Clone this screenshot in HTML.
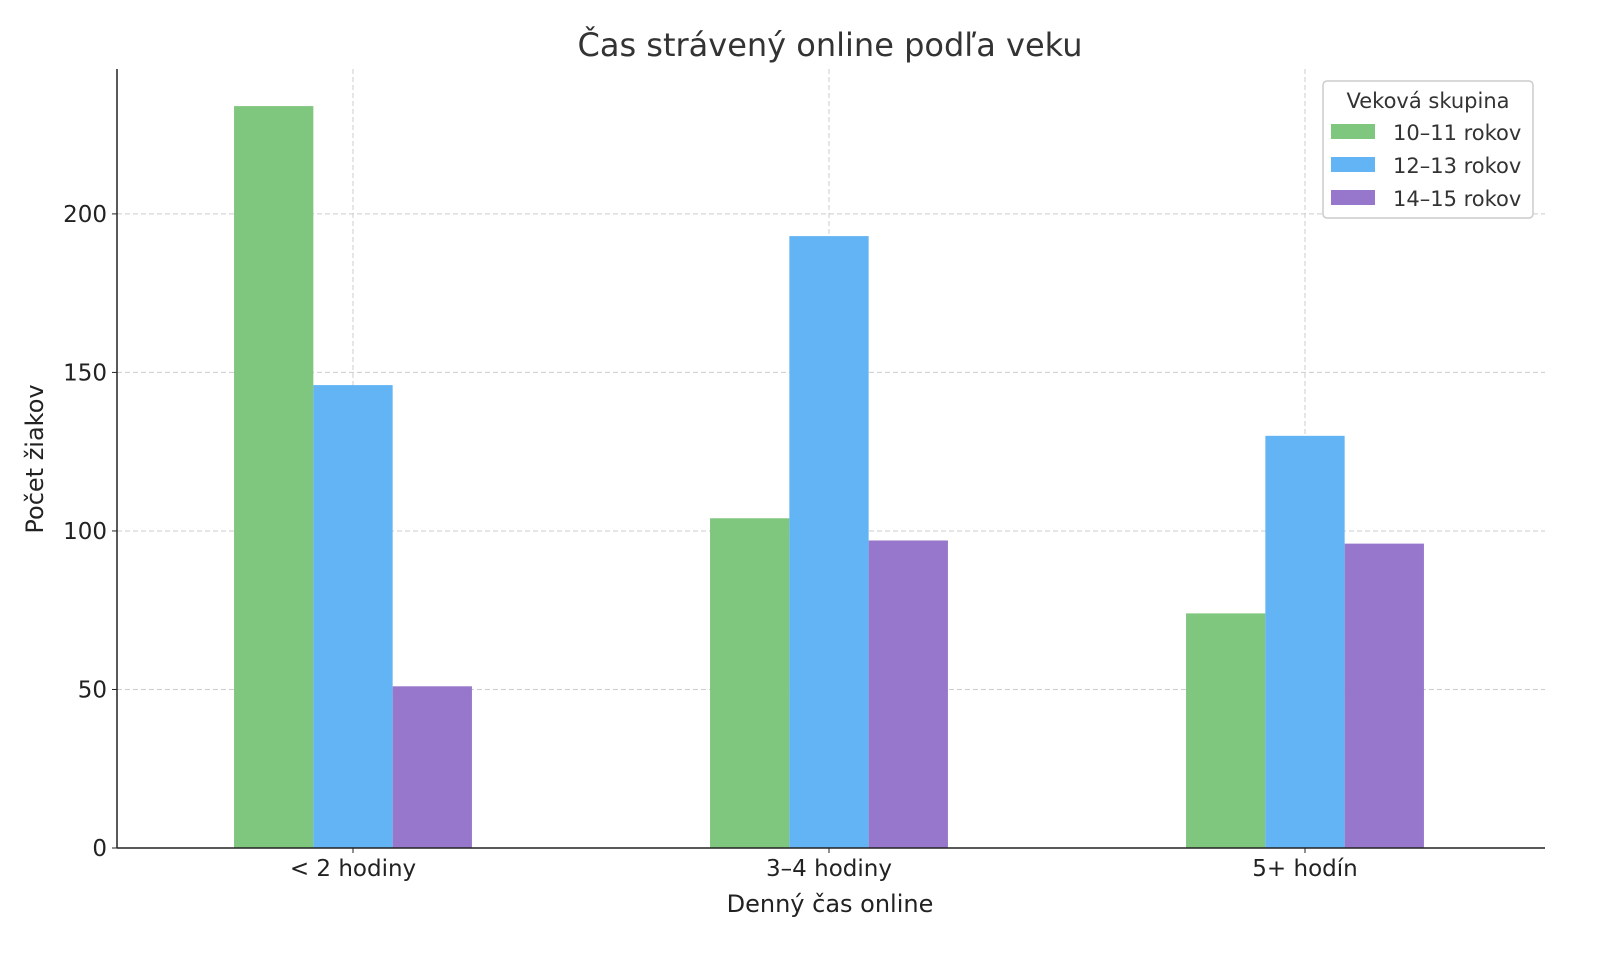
<!DOCTYPE html>
<html><head><meta charset="utf-8"><style>
body{margin:0;background:#fff;}
svg{display:block;font-family:"DejaVu Sans","Liberation Sans",sans-serif;}
</style></head><body>
<svg id="chart" width="1600" height="960">
<text x="830" y="56" text-anchor="middle" font-size="32" fill="#333">Čas strávený online podľa veku</text>
<g id="grid"></g>
<g id="bars"></g>
<g id="axes"></g>
<text x="830" y="912" text-anchor="middle" font-size="24" fill="#222">Denný čas online</text>
<text transform="translate(43,459) rotate(-90)" text-anchor="middle" font-size="24" fill="#222">Počet žiakov</text>
<g>
<rect x="1323" y="81" width="210" height="137" rx="4" fill="#fff" stroke="#ccc" stroke-width="1.5"/>
<text x="1428" y="108" text-anchor="middle" font-size="21" fill="#333">Veková skupina</text>
<g><rect x="1331" y="124" width="44" height="15" fill="#7fc67f"/><text x="1393" y="140" font-size="21" fill="#333">10–11 rokov</text></g>
<g><rect x="1331" y="157" width="44" height="15" fill="#63b4f4"/><text x="1393" y="173" font-size="21" fill="#333">12–13 rokov</text></g>
<g><rect x="1331" y="190" width="44" height="15" fill="#9677cc"/><text x="1393" y="206" font-size="21" fill="#333">14–15 rokov</text></g>
</g>
</svg>
<script>
const categories=["< 2 hodiny","3–4 hodiny","5+ hodín"];
const s1011=[234,104,74];
const s1213=[146,193,130];
const s1415=[51,97,96];
const yTicks=[0,50,100,150,200];
const colors=["#7fc67f","#63b4f4","#9677cc"];
const ns="http://www.w3.org/2000/svg";
const X0=117,X1=1545,Y0=848,Ytop=69,ymax=245.7;
function y(v){return Y0-(v/ymax)*(Y0-Ytop);}
function xc(i){return 353+i*476;}
const bw=79.3;
function mk(t,a,p){const e=document.createElementNS(ns,t);for(const k in a)e.setAttribute(k,a[k]);p.appendChild(e);return e;}
const grid=document.getElementById('grid'),bars=document.getElementById('bars'),axes=document.getElementById('axes');
yTicks.forEach(v=>{
 if(v>0){const l=mk('line',{x1:X0,x2:X1,y1:y(v),y2:y(v),stroke:'#ccc','stroke-dasharray':'5,3'},grid);
 
 }
 const t=mk('text',{x:X0-10,y:y(v)+8,'text-anchor':'end','font-size':'23',fill:'#222'},axes);t.textContent=v;
 
 
 mk('line',{x1:X0-5,x2:X0,y1:y(v),y2:y(v),stroke:'#222'},axes);
});
categories.forEach((c,i)=>{
 const l=mk('line',{x1:xc(i),x2:xc(i),y1:Ytop,y2:Y0,stroke:'#ccc','stroke-dasharray':'5,3'},grid);
 
 
 const t=mk('text',{x:xc(i),y:876,'text-anchor':'middle','font-size':'23',fill:'#222'},axes);t.textContent=c;
 
 
 mk('line',{x1:xc(i),x2:xc(i),y1:Y0,y2:Y0+5,stroke:'#222'},axes);
});
[s1011,s1213,s1415].forEach((s,j)=>{
 s.forEach((v,i)=>{
  const r=mk('rect',{x:xc(i)+(j-1.5)*bw,y:y(v),width:bw,height:Y0-y(v),fill:colors[j]},bars);
  
  
 });
});
mk('line',{x1:X0,x2:X0,y1:Ytop,y2:Y0,stroke:'#222','stroke-width':1.5},axes);
mk('line',{x1:X0,x2:X1,y1:Y0,y2:Y0,stroke:'#222','stroke-width':1.5},axes);
</script>
</body></html>
